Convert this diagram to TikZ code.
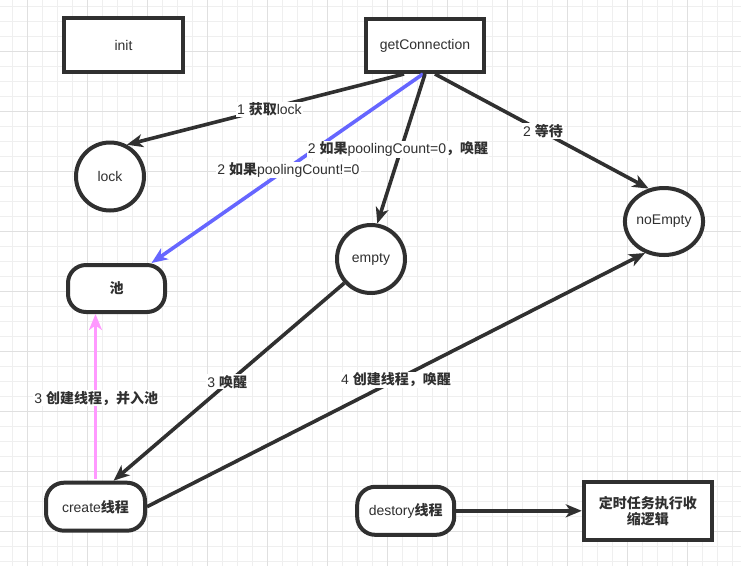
\documentclass[tikz,border=0pt]{standalone}
\usepackage{fontspec}
\setmainfont{Liberation Sans}
\newfontfamily\cjk{Noto Sans CJK SC}
\usetikzlibrary{arrows.meta,shapes.geometric,calc}
\definecolor{ln}{HTML}{303030}
\definecolor{gridminor}{HTML}{EFEFEF}
\definecolor{gridmajor}{HTML}{E0E0E0}
\definecolor{bluearr}{HTML}{6666FF}
\definecolor{pinkarr}{HTML}{FF99FF}
\newcommand{\zhb}[1]{{\cjk\bfseries #1}}
\begin{document}
\begin{tikzpicture}[x=1pt,y=-1pt,
  font=\fontsize{14}{16}\selectfont, text=ln,
  box/.style={draw=ln, line width=4pt, fill=white, rectangle, inner sep=0pt},
  rbox/.style={draw=ln, line width=4pt, fill=white, rectangle, rounded corners=18pt, inner sep=0pt},
  circ/.style={draw=ln, line width=4pt, fill=white, circle, inner sep=0pt},
  ell/.style={draw=ln, line width=4pt, fill=white, ellipse, inner sep=0pt},
  arr/.style={line width=3.6pt, draw=ln, -{Stealth[length=16pt,width=13pt,inset=4.5pt]}},
  lbl/.style={fill=white, inner sep=1pt, text=ln}]
\useasboundingbox (0,0) rectangle (741,566);
\fill[white] (0,0) rectangle (741,566);
% grid
\foreach \i in {0,...,48} {\draw[gridminor, line width=1pt] ({12.5+15*\i},0) -- ({12.5+15*\i},566);}
\foreach \i in {0,...,37} {\draw[gridminor, line width=1pt] (0,{6.7+15*\i}) -- (741,{6.7+15*\i});}
\foreach \i in {0,...,11} {\draw[gridmajor, line width=1pt] ({27.5+60*\i},0) -- ({27.5+60*\i},566);}
\foreach \i in {0,...,8} {\draw[gridmajor, line width=1pt] (0,{51.7+60*\i}) -- (741,{51.7+60*\i});}
% nodes
\node[box, minimum width=119pt, minimum height=54pt] (init) at (123.5,45) {init};
\node[box, minimum width=118pt, minimum height=53pt] (gc) at (425,45.5) {getConnection};
\node[circ, minimum size=68pt] (lock) at (110,176.5) {lock};
\node[rbox, minimum width=97pt, minimum height=47pt] (pool) at (116.5,288.5) {\zhb{池}};
\node[circ, minimum size=68pt] (empty) at (371,259) {empty};
\node[ell, minimum width=74pt, minimum height=67pt] (noEmpty) at (664,221.5) {noEmpty};
\node[rbox, minimum width=99pt, minimum height=48pt] (create) at (95.5,506.7) {create\zhb{线程}};
\node[rbox, minimum width=97pt, minimum height=48pt] (destory) at (405.7,510.8) {destory\zhb{线程}};
\node[box, minimum width=128pt, minimum height=58pt, align=center] (timer) at (647.8,510.8) {\zhb{定时任务执行收}\\\zhb{缩逻辑}};
% edges
\draw[arr] ($(gc.south)+(-21,0)$) -- (lock.62);
\draw[arr, draw=bluearr, color=bluearr] ($(gc.south)+(-2,0)$) -- ($(pool.north)+(35,0)$);
\draw[arr] (gc.south) -- (empty.80);
\draw[arr] ($(gc.south)+(10,0)$) -- (noEmpty.115);
\draw[arr] (empty.222) -- ($(create.north)+(18,0)$);
\draw[arr] (create.east) -- (noEmpty.239);
\draw[arr, draw=pinkarr, color=pinkarr] ($(create.north)+(0,-2)$) -- (create.north |- pool.south);
\draw[arr] (destory.east) -- (timer.west);
% labels
\node[lbl] (l1) at (269.4,109.3) {1 \zhb{获取}lock};
\node[lbl] (l2) at (288.5,170) {2 \zhb{如果}poolingCount!=0};
\node[lbl] (l3) at (398,149.3) {2 \zhb{如果}poolingCount=0\zhb{，唤醒}};
\node[lbl] (l4) at (543,131) {2 \zhb{等待}};
\node[lbl] (l5) at (227.3,381.7) {3 \zhb{唤醒}};
\node[lbl] (l6) at (396,380) {4 \zhb{创建线程，唤醒}};
\node[lbl] (l7) at (96.2,398.3) {3 \zhb{创建线程，并入池}};
\end{tikzpicture}
\end{document}
